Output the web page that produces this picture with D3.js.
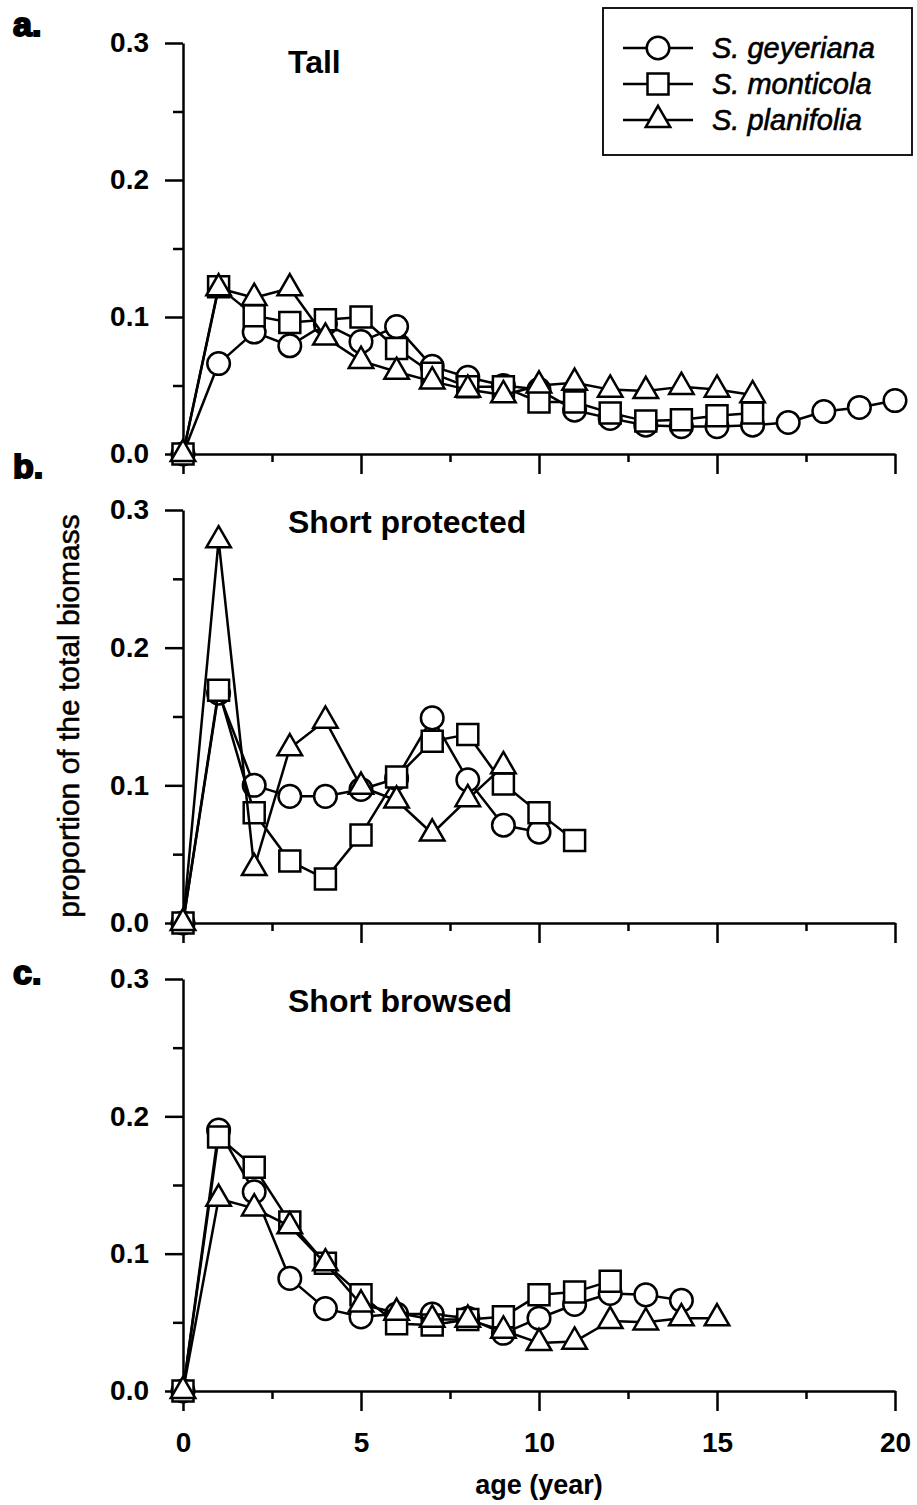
<!DOCTYPE html>
<html>
<head>
<meta charset="utf-8">
<script src="https://cdn.jsdelivr.net/npm/d3@7"></script>
<style>
  html, body { margin: 0; padding: 0; background: #fff; }
  svg { display: block; font-family: "Liberation Sans", Arial, Helvetica, sans-serif; }
</style>
</head>
<body>
<svg id="chart" width="917" height="1505"></svg>
<script>
// Willow species and panel labels
const species = ["S. geyeriana", "S. monticola", "S. planifolia"];
const panelTitles = ["Tall", "Short protected", "Short browsed"];
const panelLetters = ["a.", "b.", "c."];

// Age ticks (years) and proportion ticks
const xMajorTicks = [0, 5, 10, 15, 20];
const xMinorTicks = [2.5, 7.5, 12.5, 17.5];
const yMajorTicks = [0, 0.1, 0.2, 0.3];
const yMinorTicks = [0.05, 0.15, 0.25];

// Proportion of total biomass by age (index = age in years)
const tallGeyeriana = [0, 0.066, 0.089, 0.079, 0.095, 0.082, 0.093, 0.064, 0.056, 0.050, 0.047, 0.032, 0.026, 0.021, 0.020, 0.020, 0.021, 0.023, 0.031, 0.034, 0.039];
const tallMonticola = [0, 0.122, 0.101, 0.096, 0.098, 0.100, 0.077, 0.059, 0.049, 0.049, 0.038, 0.038, 0.030, 0.024, 0.025, 0.028, 0.030];
const tallPlanifolia = [0, 0.121, 0.114, 0.121, 0.085, 0.068, 0.060, 0.053, 0.047, 0.043, 0.050, 0.052, 0.047, 0.046, 0.049, 0.047, 0.043];

const protGeyeriana = [0, 0.167, 0.100, 0.092, 0.092, 0.097, 0.105, 0.149, 0.104, 0.071, 0.066];
const protMonticola = [0, 0.169, 0.080, 0.045, 0.032, 0.064, 0.106, 0.132, 0.137, 0.101, 0.080, 0.060];
const protPlanifolia = [0, 0.278, 0.040, 0.127, 0.147, 0.099, 0.089, 0.065, 0.090, 0.114];

const browGeyeriana = [0, 0.190, 0.145, 0.082, 0.060, 0.054, 0.056, 0.056, 0.053, 0.042, 0.053, 0.063, 0.071, 0.070, 0.066];
const browMonticola = [0, 0.185, 0.163, 0.123, 0.093, 0.070, 0.049, 0.048, 0.052, 0.054, 0.070, 0.072, 0.080];
const browPlanifolia = [0, 0.140, 0.133, 0.120, 0.093, 0.063, 0.057, 0.052, 0.052, 0.044, 0.035, 0.036, 0.051, 0.050, 0.053, 0.053];

const panelSeries = [
  [tallGeyeriana, tallMonticola, tallPlanifolia],
  [protGeyeriana, protMonticola, protPlanifolia],
  [browGeyeriana, browMonticola, browPlanifolia]
];

// ---- layout ----
const svg = d3.select("#chart");
const FONT = '"Liberation Sans", Arial, Helvetica, sans-serif';
const STROKE = 2.5;
const x = d3.scaleLinear().domain([0, 20]).range([183, 895]);
const panelRanges = [[454, 43], [923, 510], [1391, 979]];
const titleBaselines = [73, 533, 1012];
const letterBaselines = [36, 478, 984];

const symbolTypes = [d3.symbolCircle, d3.symbolSquare, d3.symbolTriangle];
const symbolSizes = [400, 441, 260];
const symbolGen = species.map((s, i) => d3.symbol().type(symbolTypes[i]).size(symbolSizes[i]));

function styleAxis(g) {
  g.selectAll("path.domain").attr("stroke", "#000").attr("stroke-width", STROKE);
  g.selectAll(".tick line").attr("stroke", "#000").attr("stroke-width", STROKE);
}

panelRanges.forEach((range, p) => {
  const y = d3.scaleLinear().domain([0, 0.3]).range(range);
  const g = svg.append("g");

  // y axis: labelled major ticks + short minor ticks
  const yMajor = g.append("g").attr("transform", `translate(${x(0)},0)`)
    .call(d3.axisLeft(y).tickValues(yMajorTicks).tickSize(18).tickSizeOuter(0)
      .tickPadding(16).tickFormat(d3.format(".1f")));
  yMajor.selectAll("text").attr("font-size", 28).attr("font-weight", "bold")
    .attr("font-family", FONT).attr("fill", "#000");
  styleAxis(yMajor);
  const yMinor = g.append("g").attr("transform", `translate(${x(0)},0)`)
    .call(d3.axisLeft(y).tickValues(yMinorTicks).tickSize(10).tickSizeOuter(0).tickFormat(""));
  yMinor.select("path.domain").remove();
  styleAxis(yMinor);

  // x axis, labels only on the bottom panel
  const xMajor = g.append("g").attr("transform", `translate(0,${range[0]})`)
    .call(d3.axisBottom(x).tickValues(xMajorTicks).tickSize(20).tickSizeOuter(0)
      .tickPadding(21).tickFormat(p === 2 ? d3.format("d") : () => ""));
  xMajor.selectAll("text").attr("font-size", 28).attr("font-weight", "bold")
    .attr("font-family", FONT).attr("fill", "#000");
  styleAxis(xMajor);
  const xMinor = g.append("g").attr("transform", `translate(0,${range[0]})`)
    .call(d3.axisBottom(x).tickValues(xMinorTicks).tickSize(8).tickSizeOuter(0).tickFormat(""));
  xMinor.select("path.domain").remove();
  styleAxis(xMinor);

  // series: line then markers, one species at a time
  panelSeries[p].forEach((vals, s) => {
    const pts = vals.map((v, i) => [i, v]);
    g.append("path").datum(pts)
      .attr("fill", "none").attr("stroke", "#000").attr("stroke-width", STROKE)
      .attr("stroke-linejoin", "round")
      .attr("d", d3.line().x(d => x(d[0])).y(d => y(d[1])));
    g.append("g").selectAll("path").data(pts).join("path")
      .attr("transform", d => `translate(${x(d[0])},${y(d[1])})`)
      .attr("d", symbolGen[s]())
      .attr("fill", "#fff").attr("stroke", "#000").attr("stroke-width", STROKE);
  });

  // panel title and letter
  g.append("text").attr("x", 288).attr("y", titleBaselines[p])
    .attr("font-size", 32).attr("font-weight", "bold").attr("font-family", FONT)
    .text(panelTitles[p]);
  g.append("text").attr("x", 13).attr("y", letterBaselines[p])
    .attr("font-size", 34).attr("font-weight", "bold").attr("font-family", FONT)
    .attr("stroke", "#000").attr("stroke-width", 2)
    .text(panelLetters[p]);
});

// axis titles
svg.append("text").attr("x", x(10)).attr("y", 1494).attr("text-anchor", "middle")
  .attr("font-size", 27).attr("font-family", FONT).attr("font-weight", "bold")
  .text("age (year)");
svg.append("text").attr("transform", "translate(79,716) rotate(-90)")
  .attr("text-anchor", "middle").attr("font-size", 30).attr("font-family", FONT)
  .attr("stroke", "#000").attr("stroke-width", 0.5)
  .text("proportion of the total biomass");

// legend
const legend = svg.append("g");
legend.append("rect").attr("x", 603).attr("y", 8).attr("width", 309).attr("height", 147)
  .attr("fill", "#fff").attr("stroke", "#000").attr("stroke-width", 1.8);
const legendRows = [48, 84, 120];
species.forEach((name, i) => {
  const row = legend.append("g").attr("transform", `translate(0,${legendRows[i]})`);
  row.append("line").attr("x1", 623).attr("x2", 693).attr("y1", 0).attr("y2", 0)
    .attr("stroke", "#000").attr("stroke-width", STROKE);
  row.append("path").attr("transform", "translate(658,0)").attr("d", symbolGen[i]())
    .attr("fill", "#fff").attr("stroke", "#000").attr("stroke-width", STROKE);
  row.append("text").attr("x", 712).attr("y", 10).attr("font-size", 29)
    .attr("font-style", "italic").attr("font-family", FONT)
    .attr("stroke", "#000").attr("stroke-width", 0.6).text(name);
});
</script>
</body>
</html>
